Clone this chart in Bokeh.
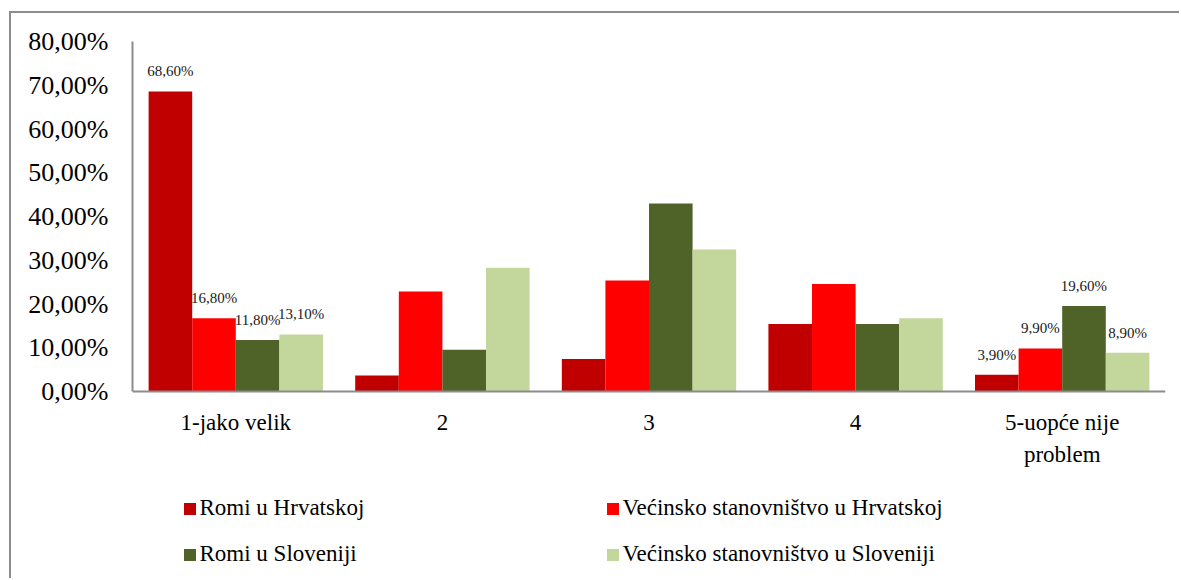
from bokeh.plotting import figure
from bokeh.models import (FactorRange, Legend, LegendItem, ColumnDataSource, FixedTicker)
from bokeh.transform import dodge
from bokeh.core.properties import value
from bokeh.embed import file_html
from bokeh.resources import INLINE

categories = ["1-jako velik", "2", "3", "4", "5-uopće nije\nproblem"]
series_names = ["Romi u Hrvatskoj", "Većinsko stanovništvo u Hrvatskoj",
                "Romi u Sloveniji", "Većinsko stanovništvo u Sloveniji"]
romi_hr = [68.6, 3.7, 7.5, 15.5, 3.9]
vecinsko_hr = [16.8, 22.9, 25.4, 24.6, 9.9]
romi_slo = [11.8, 9.6, 43.0, 15.5, 19.6]
vecinsko_slo = [13.1, 28.3, 32.5, 16.8, 8.9]
labelled_categories = ["1-jako velik", "5-uopće nije\nproblem"]
y_ticks = [0, 10, 20, 30, 40, 50, 60, 70, 80]

colors = ["#C00000", "#FF0000", "#4F6228", "#C3D69B"]
series_values = [romi_hr, vecinsko_hr, romi_slo, vecinsko_slo]

FONT = "Liberation Serif"

def fmt(v):
    return f"{v:.2f}".replace(".", ",") + "%"

# frame extends below the value axis so that the legend sits inside it
p = figure(width=1170, height=567, x_range=FactorRange(*categories), y_range=(-43.1, 80),
           output_backend="svg", toolbar_location=None,
           min_border_left=121, min_border_right=16, min_border_top=28, min_border_bottom=0)
p.styles = {"margin-left": "9px", "margin-top": "11px",
            "border-left": "2px solid #8c8c8c", "border-top": "2px solid #8c8c8c"}
p.x_range.range_padding = 0
p.grid.grid_line_color = None
p.outline_line_color = None
p.background_fill_color = "white"
p.border_fill_color = "white"

bar_w = 0.211
offsets = [-1.5 * bar_w, -0.5 * bar_w, 0.5 * bar_w, 1.5 * bar_w]
renderers = []
for name, vals, col, off in zip(series_names, series_values, colors, offsets):
    src = ColumnDataSource(dict(cat=categories, val=vals,
                                lab=[fmt(v) if c in labelled_categories else "" for c, v in zip(categories, vals)]))
    r = p.vbar(x=dodge("cat", off, range=p.x_range), top="val", width=bar_w, source=src,
               fill_color=col, line_color=None)
    renderers.append(r)
    p.text(x=dodge("cat", off, range=p.x_range), y="val", text="lab", source=src,
           text_font=value(FONT), text_font_size="15px", text_color="#1a1a1a",
           text_align="center", text_baseline="middle", y_offset=-20)

for ax in (p.xaxis[0], p.yaxis[0]):
    ax.axis_line_color = "#8c8c8c"
    ax.axis_line_width = 2
    ax.major_tick_line_color = None
    ax.minor_tick_line_color = None
    ax.major_tick_out = 0
    ax.major_tick_in = 0
    ax.major_label_text_font = FONT
    ax.major_label_text_color = "#000000"

p.yaxis.ticker = FixedTicker(ticks=y_ticks)
p.yaxis.bounds = (0, 80)
p.yaxis.major_label_overrides = {t: fmt(t) for t in y_ticks}
p.yaxis.major_label_text_font_size = "26px"
p.yaxis.major_label_standoff = 24
p.xaxis.fixed_location = 0
p.xaxis.major_label_text_font_size = "23px"
p.xaxis.major_label_standoff = 18
p.xaxis.major_label_text_line_height = 1.3

# legend is filled column by column: column 1 = series 0 and 2, column 2 = series 1 and 3
order = [0, 2, 1, 3]
items = [LegendItem(label=series_names[i], renderers=[renderers[i]]) for i in order]
legend = Legend(items=items, ncols=2, location=(49.5, 12),
                label_text_font=FONT, label_text_font_size="23px", label_text_color="#000000",
                glyph_width=15, glyph_height=15, label_standoff=3,
                label_width=387, label_height=28, spacing=18, padding=0, margin=0,
                border_line_color=None, background_fill_alpha=0)
p.add_layout(legend)

open("out.html", "w").write(file_html(p, INLINE))
